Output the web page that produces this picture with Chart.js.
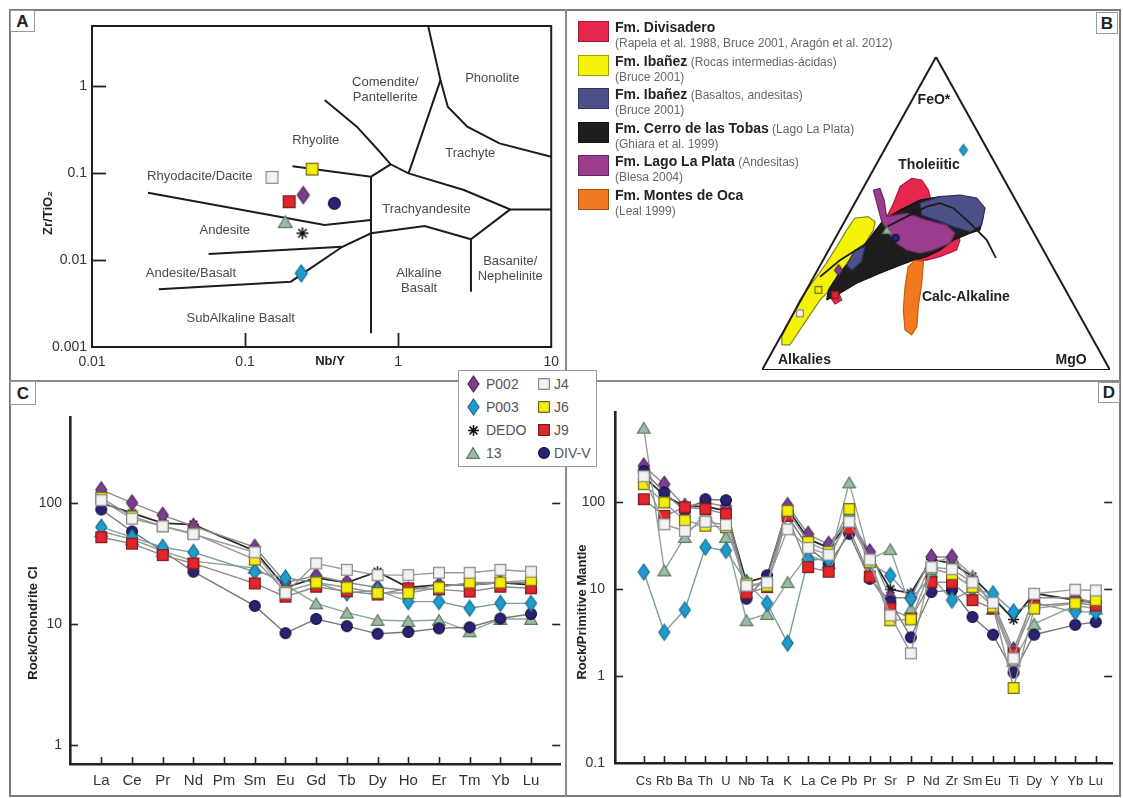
<!DOCTYPE html>
<html><head><meta charset="utf-8"><title>Geoquímica</title>
<script src="https://cdn.jsdelivr.net/npm/chart.js@4.4.0/dist/chart.umd.min.js"></script>
<style>
html,body{margin:0;padding:0;background:#fff}
#page{position:relative;width:1123px;height:798px;overflow:hidden;font-family:'Liberation Sans',Arial,sans-serif;color:#222;background:#fff}
canvas.chart{position:absolute;z-index:2}
.frame{position:absolute;border:2px solid #7a7a7a;box-sizing:border-box;z-index:1}
.vline{position:absolute;width:2px;background:#8a8a8a;z-index:1}
.hline{position:absolute;height:2px;background:#8a8a8a;z-index:1}
.letter{position:absolute;border:1px solid #9a9a9a;background:#fff;font-weight:bold;font-size:17px;text-align:center;z-index:5;box-sizing:border-box}
#legendB{position:absolute;left:578px;top:21px;z-index:5}
.lgB{position:absolute;left:0;white-space:nowrap}
.lgB .sw{position:absolute;left:0;top:0;width:31px;height:21px;box-sizing:border-box;border:1px solid rgba(0,0,0,0.35)}
.lgB .t1{position:absolute;left:37px;top:-2px;font-size:14px;font-weight:bold;color:#222;line-height:16px}
.lgB .t1 span{font-weight:normal;font-size:12px;color:#666}
.lgB .t2{position:absolute;left:37px;top:15px;font-size:12px;color:#666;line-height:14px}
#legendCD{position:absolute;left:458px;top:370px;width:139px;height:97px;border:1px solid #999;background:#fff;box-sizing:border-box;z-index:6}
.lgi{position:absolute;font-size:14px;color:#555;line-height:16px;white-space:nowrap}
.lgm{position:absolute}
</style></head>
<body><div id="page">
<div class="frame" style="left:9px;top:9px;width:1112px;height:788px"></div>
<div class="vline" style="left:565px;top:9px;height:788px"></div>
<div class="hline" style="left:9px;top:380px;width:1112px"></div>
<div class="letter" style="left:10px;top:10px;width:25px;height:22px;line-height:21px">A</div>
<div class="letter" style="left:1096px;top:12px;width:22px;height:22px;line-height:21px">B</div>
<div class="letter" style="left:10px;top:381px;width:26px;height:24px;line-height:23px">C</div>
<div class="letter" style="left:1098px;top:382px;width:22px;height:21px;line-height:20px">D</div>

<canvas id="chartA" class="chart" width="566" height="381" style="left:0px;top:0px"></canvas>
<canvas id="chartB" class="chart" width="390" height="345" style="left:730px;top:40px"></canvas>
<canvas id="chartC" class="chart" width="558" height="415" style="left:10px;top:381px"></canvas>
<canvas id="chartD" class="chart" width="552" height="415" style="left:568px;top:381px"></canvas>
<div id="legendB"></div>
<div id="legendCD"></div>
</div>
<script>
// ================= DATA =================
// Samples (shared by all panels)
const sampleNames = ['P002', 'P003', 'DEDO', '13', 'J4', 'J6', 'J9', 'DIV-V'];

// ---- Panel A: Nb/Y vs Zr/TiO2 (Winchester & Floyd) ----
const nbY   = [0.240, 0.233, 0.237, 0.183, 0.150, 0.274, 0.194, 0.383];
const zrTiO2 = [0.0558, 0.00703, 0.0203, 0.0276, 0.0892, 0.111, 0.0468, 0.0448];
const xTicksA = [0.01, 0.1, 1, 10];
const yTicksA = [0.001, 0.01, 0.1, 1];
// field boundaries (Nb/Y, Zr/TiO2)
const bndComendite = [[0.331,0.690],[0.537,0.341],[0.740,0.184],[0.893,0.126],[1.17,0.099],[2.69,0.0638],[5.40,0.0382],[10,0.0382]];
const bndPhonolite = [[1.57,4.9],[1.89,1.17],[1.17,0.099]];
const bndTrachyte = [[1.89,1.17],[2.11,0.578],[2.83,0.341],[4.59,0.219],[10,0.154]];
const bndBasanite = [[5.40,0.0382],[2.99,0.0173],[2.99,0.00432]];
const bndSubalkaline = [[0.0273,0.0046],[0.199,0.00564],[0.432,0.0142],[0.665,0.0203],[1.49,0.0246],[2.99,0.0173]];
const bndAndesiteBasalt = [[0.0578,0.0117],[0.432,0.0142]];
const bndAndesite = [[0.0232,0.0594],[0.331,0.0252],[0.665,0.0288]];
const bndRhyodacite = [[0.204,0.120],[0.665,0.0907],[0.893,0.126]];
const bndAlkaline = [[0.665,0.0907],[0.665,0.00144]];
const fieldNamesA = ['Comendite/\nPantellerite','Phonolite','Rhyolite','Trachyte','Rhyodacite/Dacite','Trachyandesite','Andesite','Andesite/Basalt','Alkaline\nBasalt','Basanite/\nNephelinite','SubAlkaline Basalt'];
const fieldNbY = [0.824, 4.12, 0.29, 2.96, 0.0506, 1.53, 0.0737, 0.0443, 1.37, 5.40, 0.0937];
const fieldZrTi = [0.91, 1.22, 0.239, 0.168, 0.0907, 0.0382, 0.0221, 0.00703, 0.0058, 0.0078, 0.00214];

// ---- Panel B: AFM ternary (plot units: base 0..100, apex y=100) ----
const formationNames = ['Fm. Divisadero','Fm. Ibañez','Fm. Ibañez','Fm. Cerro de las Tobas','Fm. Lago La Plata','Fm. Montes de Oca'];
const formationNotes = ['',' (Rocas intermedias-ácidas)',' (Basaltos, andesitas)',' (Lago La Plata)',' (Andesitas)',''];
const formationRefs = ['(Rapela et al. 1988, Bruce 2001, Aragón et al. 2012)','(Bruce 2001)','(Bruce 2001)','(Ghiara et al. 1999)','(Blesa 2004)','(Leal 1999)'];
const formationColors = ['#e8274f','#f5f20a','#4d5189','#1f1d1e','#9a3d8f','#f2791e'];
const formationEdges = ['#b0183a','#85851a','#2f3160','#111111','#6b2a63','#c35d10'];
const fieldIbanezAcid = [[5.7,8.0],[8.0,8.0],[12.8,16.0],[16.7,22.4],[21.5,27.7],[25.3,34.1],[29.1,39.4],[32.0,44.7],[32.5,47.4],[30.5,49.0],[26.7,48.5],[24.3,44.7],[21.5,39.4],[18.1,33.5],[14.3,27.7],[10.9,22.4],[8.0,16.0],[5.7,10.6],[5.7,8.0]];
const fieldDivisadero = [[39.7,58.6],[43.0,61.2],[45.9,60.7],[47.8,57.5],[48.8,53.3],[47.3,49.0],[55.0,44.7],[56.9,41.5],[55.9,38.3],[51.1,36.2],[47.3,35.1],[43.5,35.1],[39.7,36.2],[35.9,38.3],[33.9,36.2],[31.0,34.1],[30.1,36.2],[32.0,40.4],[33.9,44.7],[35.9,49.0],[37.8,53.3],[39.7,58.6]];
const fieldDivisaderoSmall = [[19.5,23.4],[21.9,25.0],[22.9,22.4],[21.0,21.1],[19.5,23.4]];
const fieldCerroTobas = [[18.6,22.4],[22.4,24.5],[27.2,27.7],[33.9,30.9],[39.7,33.5],[43.5,35.1],[47.3,36.2],[51.1,38.3],[55.0,41.5],[59.8,43.7],[62.6,44.7],[63.6,49.0],[61.7,52.2],[55.9,54.3],[51.1,55.4],[45.4,54.3],[39.7,51.1],[34.9,47.9],[32.0,43.7],[29.1,39.4],[25.3,35.1],[21.5,29.8],[19.1,25.6],[18.6,22.4]];
const fieldIbanezBasalt = [[45.4,53.3],[51.1,55.4],[56.9,55.9],[61.7,54.9],[64.1,51.7],[63.1,46.3],[59.8,44.2],[55.0,45.8],[50.2,47.9],[45.9,49.5],[45.4,53.3]];
const fieldIbanezBasaltSmall = [[24.3,33.5],[26.7,38.3],[29.6,39.4],[28.6,34.6],[25.8,31.9],[24.3,33.5]];
const fieldLagoLaPlata = [[32.0,57.5],[33.9,58.0],[35.1,54.3],[35.8,49.0],[41.6,50.1],[47.3,47.9],[53.0,46.3],[55.5,43.7],[54.0,40.5],[49.2,38.3],[45.4,37.3],[41.6,38.3],[38.7,40.5],[36.3,43.7],[34.4,47.4],[33.0,53.3],[32.0,57.5]];
const fieldMontesOca = [[44.0,35.1],[46.4,34.6],[45.9,27.7],[44.9,20.2],[44.5,13.8],[43.0,11.2],[41.1,12.8],[40.6,19.2],[41.1,26.6],[42.0,33.0],[44.0,35.1]];
const tholeiiticDivide = [[16.7,29.8],[22.4,35.1],[30.1,40.5],[35.9,45.8],[41.6,49.0],[47.3,52.2],[51.1,53.3],[55.0,51.7],[59.8,46.9],[64.6,41.5],[67.2,35.8]];
const triangleAFM = [[0,0],[100,0],[50,100],[0,0]];
const ternX = [22.0, 57.9, 35.9, 10.9, 16.2, 21.0, 38.4];
const ternY = [31.9, 70.3, 44.7, 18.1, 25.6, 24.0, 42.2];
const ternSample = ['P002','P003','13','J4','J6','J9','DIV-V'];
const ternLabels = ['FeO*','Tholeiitic','Calc-Alkaline','Alkalies','MgO'];
const ternLabelX = [49.4, 48.0, 58.6, 12.2, 88.8];
const ternLabelY = [86.3, 65.5, 23.3, 3.2, 3.2];

// ---- Panel C: REE normalised to chondrite CI ----
const reeLabels = ['La','Ce','Pr','Nd','Pm','Sm','Eu','Gd','Tb','Dy','Ho','Er','Tm','Yb','Lu'];
const reeP002 = [128, 100, 79, 64, null, 43, 22, 25, 22, 20, 19, 21, 21, 22, 22];
const reeP003 = [63, 52, 43, 39, null, 27, 24, 22, 18, 19, 15.3, 15.3, 13.5, 14.8, 14.8];
const reeDEDO = [100, 82, 68, 66, null, 40, 20, 24, 22, 27, 20, 21, 21, 22, 21];
const ree13   = [58, 50, 40, 33, null, 29, 21, 14.8, 12.4, 10.8, 10.6, 10.8, 8.7, 11, 11];
const reeJ4   = [105, 74, 64, 55, null, 39, 18, 31.6, 28, 25.3, 25.3, 26.5, 26.5, 28, 27];
const reeJ6   = [110, 77, 64, 56, null, 34, 18.5, 22, 20, 18, 18, 20, 22, 22, 23];
const reeJ9   = [52, 46, 37, 31.6, null, 21.6, 16.8, 20.3, 18.6, 17.5, 19.7, 19.3, 18.5, 20.3, 19.7];
const reeDIVV = [88, 58, 40, 27, null, 14.1, 8.4, 11, 9.6, 8.3, 8.6, 9.2, 9.4, 11.1, 12.1];
const yTicksC = [1, 10, 100];

// ---- Panel D: multi-element normalised to primitive mantle ----
const spiderLabels = ['Cs','Rb','Ba','Th','U','Nb','Ta','K','La','Ce','Pb','Pr','Sr','P','Nd','Zr','Sm','Eu','Ti','Dy','Y','Yb','Lu'];
const spP002 = [263, 162, 90, 100, 90, 10, 13, 92, 43, 33, 65, 27, 8, 8, 23.5, 23.5, 12, 7, 2, 8, null, 8, 7];
const spP003 = [15.8, 3.2, 5.8, 30.5, 28, 12, 6.9, 2.4, 22, 22, 70, 20, 14.4, 7.8, 14, 7.5, 10, 8.9, 5.5, 7, null, 5.5, 5.5];
const spDEDO = [200, 120, 90, 90, 80, 12, 14, 85, 38, 30, 60, 25, 10, 9, 22, 20, 14, 8, 4.5, 9, null, 7.5, 7];
const sp13   = [725, 16.5, 40, 75, 40, 4.4, 5.2, 12.1, 25, 20, 170, 22, 29, 6, 20, 23.5, 14.4, 6, 1.5, 4, null, 6.5, 6];
const spJ4   = [200, 56, 47, 60, 55, 11, 12, 49, 30, 25, 60, 22, 5, 1.83, 18, 17, 12, 7, 1.6, 8.9, null, 9.9, 9.7];
const spJ6   = [162, 100, 62, 54, 52, 11.6, 11, 80, 35, 27, 84, 20.5, 4.4, 4.5, 17.3, 15, 10.6, 6.3, 0.73, 6, null, 6.9, 7.5];
const spJ9   = [109, 70, 88, 84, 73.5, 9, 10.6, 70, 18, 15.9, 50, 14, 6, 4.6, 12.1, 12, 7.5, 6, 1.83, 6.5, null, 7, 6.5];
const spDIVV = [230, 130, 80, 109, 106, 7.8, 14.5, 70, 30.5, 19.6, 43.5, 13.2, 7.2, 2.8, 9.3, 9.8, 4.8, 3.0, 1.1, 3.0, null, 3.9, 4.2];
const yTicksD = [0.1, 1, 10, 100];

// ================= STYLE =================
const FONT = "'Liberation Sans', Arial, sans-serif";
const NARROW = "'Liberation Sans Narrow', 'Liberation Sans', Arial, sans-serif";
const markerShape = ['diamond','diamond','star','triangle','square','square','square','circle'];
const markerFill = ['#7b3f8e','#1e9cd0','#111111','#9cbba3','#f3f3f3','#f4ef0a','#e2262c','#2a2373'];
const markerEdge = ['#4b2758','#176a8c','#111111','#5e7d66','#8a8a8a','#6e6a20','#7c1d1f','#120e3c'];
const lineColor = ['#8c8c8c','#7f9aa5','#2a2a2a','#8fa595','#9a9a9a','#959595','#8a8a8a','#777777'];
const lineWidth = [1.4, 1.4, 1.8, 1.4, 1.4, 1.4, 1.4, 1.4];
const drawOrder = [5, 3, 7, 6, 0, 1, 2, 4];

Chart.defaults.font.family = FONT;
Chart.defaults.color = '#333';
Chart.defaults.animation = false;
Chart.defaults.events = [];
Chart.defaults.plugins.legend.display = false;
Chart.defaults.plugins.tooltip.enabled = false;

function makeMarker(shape, fill, edge, w, h) {
  const c = document.createElement('canvas');
  const pad = 2;
  c.width = w + pad * 2; c.height = h + pad * 2;
  const g = c.getContext('2d');
  g.translate(pad, pad);
  g.fillStyle = fill; g.strokeStyle = edge; g.lineWidth = 1.2;
  g.beginPath();
  if (shape === 'diamond') { g.moveTo(w/2, 0); g.lineTo(w, h/2); g.lineTo(w/2, h); g.lineTo(0, h/2); g.closePath(); }
  else if (shape === 'square') { g.rect(0.6, 0.6, w - 1.2, h - 1.2); }
  else if (shape === 'circle') { g.arc(w/2, h/2, w/2 - 0.6, 0, Math.PI * 2); }
  else if (shape === 'triangle') { g.moveTo(w/2, 0.6); g.lineTo(w - 0.6, h - 0.6); g.lineTo(0.6, h - 0.6); g.closePath(); }
  if (shape === 'star') {
    g.lineWidth = 1.5;
    for (let k = 0; k < 4; k++) {
      const a = k * Math.PI / 4;
      g.moveTo(w/2 - Math.cos(a) * w/2, h/2 - Math.sin(a) * h/2);
      g.lineTo(w/2 + Math.cos(a) * w/2, h/2 + Math.sin(a) * h/2);
    }
    g.stroke();
  } else { g.fill(); g.stroke(); }
  return c;
}
function markerFor(i, scale) {
  const s = scale || 1;
  const dims = {diamond: [11, 16], star: [11, 11], triangle: [14, 12], square: [12, 12], circle: [12, 12]}[markerShape[i]];
  return makeMarker(markerShape[i], markerFill[i], markerEdge[i], Math.round(dims[0] * s), Math.round(dims[1] * s));
}
const toXY = arr => arr.map(([x, y]) => ({x, y}));

// ---- plugins ----
function framePlugin() {
  return { id: 'frameBox', afterDatasetsDraw(chart) {
    const {ctx, chartArea: a} = chart;
    ctx.save(); ctx.strokeStyle = '#1e1e1e'; ctx.lineWidth = 2;
    ctx.strokeRect(a.left, a.top, a.right - a.left, a.bottom - a.top); ctx.restore();
  }};
}
function innerTicksPlugin(cfg) {
  return { id: 'innerTicks', afterDraw(chart) {
    const {ctx, chartArea: a, scales} = chart;
    ctx.save(); ctx.strokeStyle = cfg.color || '#222'; ctx.lineWidth = cfg.width || 1.6;
    (cfg.x || []).forEach(v => { const p = Math.round(scales.x.getPixelForValue(v)) + 0.5;
      ctx.beginPath(); ctx.moveTo(p, a.bottom); ctx.lineTo(p, a.bottom - cfg.lenX); ctx.stroke(); });
    (cfg.y || []).forEach(v => { const p = Math.round(scales.y.getPixelForValue(v)) + 0.5;
      ctx.beginPath(); ctx.moveTo(a.left, p); ctx.lineTo(a.left + cfg.lenY, p); ctx.stroke(); });
    (cfg.yRight || []).forEach(v => { const p = Math.round(scales.y.getPixelForValue(v)) + 0.5;
      ctx.beginPath(); ctx.moveTo(a.right, p); ctx.lineTo(a.right - cfg.lenY, p); ctx.stroke(); });
    ctx.restore();
  }};
}
function textPlugin(items) {
  return { id: 'textItems', afterDatasetsDraw(chart) {
    const {ctx, scales} = chart;
    items.forEach(it => {
      const px = it.data ? scales.x.getPixelForValue(it.x) : it.x;
      const py = it.data ? scales.y.getPixelForValue(it.y) : it.y;
      ctx.save();
      ctx.font = it.font; ctx.fillStyle = it.color || '#333';
      ctx.textAlign = 'center'; ctx.textBaseline = 'middle';
      ctx.translate(px, py); if (it.rotate) ctx.rotate(it.rotate);
      const lines = it.text.split('\n'); const lh = it.lh || 15;
      lines.forEach((ln, k) => ctx.fillText(ln, 0, (k - (lines.length - 1) / 2) * lh));
      ctx.restore();
    });
  }};
}
const fixedTicks = vals => s => { s.ticks = vals.map(v => ({value: v})); };

// ================= PANEL A =================
const boundaryListA = [bndComendite, bndPhonolite, bndTrachyte, bndBasanite, bndSubalkaline, bndAndesiteBasalt, bndAndesite, bndRhyodacite, bndAlkaline];
const datasetsA = boundaryListA.map(b => ({
  data: toXY(b), borderColor: '#1c1c1c', borderWidth: 2, pointRadius: 0, showLine: true, fill: false, order: 20, tension: 0
})).concat(sampleNames.map((n, i) => ({
  label: n, data: [{x: nbY[i], y: zrTiO2[i]}], showLine: false, pointStyle: markerFor(i, 1.08), pointRadius: 6, order: drawOrder[i]
})));
new Chart(document.getElementById('chartA'), {
  type: 'line',
  data: {datasets: datasetsA},
  options: {
    responsive: false, devicePixelRatio: 1,
    layout: {padding: {left: 0, top: 26, right: 14, bottom: 0}},
    scales: {
      x: {type: 'logarithmic', min: 0.01, max: 10, grid: {display: false, drawTicks: false}, border: {display: false},
          afterBuildTicks: fixedTicks(xTicksA), afterFit: s => { s.height = 34; },
          ticks: {padding: 7, font: {size: 14}, color: '#333', autoSkip: false, maxRotation: 0, callback: v => String(v)}},
      y: {type: 'logarithmic', min: 0.001, max: 4.9, grid: {display: false, drawTicks: false}, border: {display: false},
          afterBuildTicks: fixedTicks(yTicksA), afterFit: s => { s.width = 92; },
          ticks: {padding: 5, font: {size: 14}, color: '#333', autoSkip: false, callback: v => String(v)}}
    }
  },
  plugins: [framePlugin(), innerTicksPlugin({x: [0.1, 1], y: [0.01, 0.1, 1], lenX: 14, lenY: 14, width: 1.8}),
    textPlugin(fieldNamesA.map((t, i) => ({text: t, data: true, x: fieldNbY[i], y: fieldZrTi[i], font: '13px ' + FONT, color: '#4a4a4a', lh: 15}))
      .concat([{text: 'Zr/TiO\u2082', x: 48, y: 213, rotate: -Math.PI / 2, font: 'bold 13px ' + FONT, color: '#222'},
               {text: 'Nb/Y', x: 330, y: 361, font: 'bold 13px ' + FONT, color: '#222'}]))]
});

// ================= PANEL B =================
const fieldOrder = [
  [fieldMontesOca, 5], [fieldLagoLaPlata, 4], [fieldIbanezBasaltSmall, 2], [fieldIbanezBasalt, 2],
  [fieldCerroTobas, 3], [fieldDivisaderoSmall, 0], [fieldDivisadero, 0], [fieldIbanezAcid, 1]
];
const datasetsB = [
  {data: toXY(triangleAFM), borderColor: '#1c1c1c', borderWidth: 2, pointRadius: 0, fill: false, order: 1},
  {data: toXY(tholeiiticDivide), borderColor: '#1c1c1c', borderWidth: 1.8, pointRadius: 0, fill: false, order: 2}
].concat(fieldOrder.map(([poly, k], j) => ({
  data: toXY(poly), borderColor: formationEdges[k], backgroundColor: formationColors[k], borderWidth: 1.2,
  pointRadius: 0, fill: 'shape', tension: 0, order: 3 + j
}))).concat(ternSample.map((n, j) => {
  const i = sampleNames.indexOf(n);
  return {data: [{x: ternX[j], y: ternY[j]}], showLine: false, pointStyle: markerFor(i, 0.7), pointRadius: 4, order: 0};
}));
new Chart(document.getElementById('chartB'), {
  type: 'line',
  data: {datasets: datasetsB},
  options: {
    responsive: false, devicePixelRatio: 1,
    layout: {padding: {left: 32, top: 17, right: 10, bottom: 15}},
    scales: {x: {type: 'linear', min: 0, max: 100, display: false}, y: {type: 'linear', min: 0, max: 100, display: false}}
  },
  plugins: [textPlugin(ternLabels.map((t, i) => ({text: t, data: true, x: ternLabelX[i], y: ternLabelY[i], font: 'bold 14px ' + FONT, color: '#222'})))]
});

// legend B (HTML)
const legB = document.getElementById('legendB');
formationNames.forEach((n, k) => {
  const d = document.createElement('div');
  d.className = 'lgB'; d.style.top = (k * 33.5) + 'px';
  d.innerHTML = '<div class="sw" style="background:' + formationColors[k] + '"></div>' +
    '<div class="t1">' + n + (formationNotes[k] ? '<span>' + formationNotes[k] + '</span>' : '') + '</div>' +
    '<div class="t2">' + formationRefs[k] + '</div>';
  legB.appendChild(d);
});

// ================= PANELS C & D =================
function seriesDatasets(values) {
  return sampleNames.map((n, i) => ({
    label: n, data: values[i].map((v, k) => ({x: k, y: v})),
    borderColor: lineColor[i], borderWidth: lineWidth[i], pointStyle: markerFor(i), pointRadius: 6,
    spanGaps: true, fill: false, tension: 0, order: drawOrder[i]
  }));
}
const reeData = [reeP002, reeP003, reeDEDO, ree13, reeJ4, reeJ6, reeJ9, reeDIVV];
const spiderData = [spP002, spP003, spDEDO, sp13, spJ4, spJ6, spJ9, spDIVV];
const axisBorder = {display: true, color: '#222', width: 2.6};

new Chart(document.getElementById('chartC'), {
  type: 'line',
  data: {datasets: seriesDatasets(reeData)},
  options: {
    responsive: false, devicePixelRatio: 1,
    layout: {padding: {left: 0, top: 36, right: 3, bottom: 0}},
    scales: {
      x: {type: 'linear', min: -1.02, max: 14.95, grid: {display: false, drawTicks: false}, border: axisBorder,
          afterBuildTicks: fixedTicks(reeLabels.map((_, i) => i)), afterFit: s => { s.height = 32; },
          ticks: {padding: 8, autoSkip: false, maxRotation: 0, color: '#333', font: {size: 15, family: NARROW}, callback: v => reeLabels[v]}},
      y: {type: 'logarithmic', min: 0.7, max: 510, grid: {display: false, drawTicks: false}, border: axisBorder,
          afterBuildTicks: fixedTicks(yTicksC), afterFit: s => { s.width = 60; },
          ticks: {padding: 8, color: '#333', font: {size: 14}, callback: v => String(v)}}
    }
  },
  plugins: [innerTicksPlugin({x: reeLabels.map((_, i) => i), y: yTicksC, yRight: yTicksC, lenX: 7, lenY: 8, width: 1.6}),
    textPlugin([{text: 'Rock/Chondrite CI', x: 23, y: 242, rotate: -Math.PI / 2, font: 'bold 13px ' + FONT, color: '#222'}])]
});

new Chart(document.getElementById('chartD'), {
  type: 'line',
  data: {datasets: seriesDatasets(spiderData)},
  options: {
    responsive: false, devicePixelRatio: 1,
    layout: {padding: {left: 0, top: 31, right: 5, bottom: 0}},
    scales: {
      x: {type: 'linear', min: -1.4, max: 22.8, grid: {display: false, drawTicks: false}, border: axisBorder,
          afterBuildTicks: fixedTicks(spiderLabels.map((_, i) => i)), afterFit: s => { s.height = 33; },
          ticks: {padding: 11, autoSkip: false, maxRotation: 0, color: '#333', font: {size: 13, family: NARROW}, callback: v => spiderLabels[v]}},
      y: {type: 'logarithmic', min: 0.1, max: 1100, grid: {display: false, drawTicks: false}, border: axisBorder,
          afterBuildTicks: fixedTicks(yTicksD), afterFit: s => { s.width = 47; },
          ticks: {padding: 10, color: '#333', font: {size: 14}, callback: v => String(v)}}
    }
  },
  plugins: [innerTicksPlugin({x: spiderLabels.map((_, i) => i), y: yTicksD.slice(1), yRight: yTicksD.slice(1), lenX: 7, lenY: 8, width: 1.6}),
    textPlugin([{text: 'Rock/Primitive Mantle', x: 14, y: 231, rotate: -Math.PI / 2, font: 'bold 13px ' + FONT, color: '#222'}])]
});

// shared legend (HTML)
const legCD = document.getElementById('legendCD');
const legRowY = [13, 36, 59, 82];
sampleNames.forEach((n, i) => {
  const col = i < 4 ? 0 : 1, row = i % 4;
  const m = markerFor(i);
  m.className = 'lgm';
  const cx = col === 0 ? 14 : 85;
  m.style.left = (cx - m.width / 2) + 'px'; m.style.top = (legRowY[row] - m.height / 2) + 'px';
  legCD.appendChild(m);
  const t = document.createElement('div');
  t.className = 'lgi'; t.textContent = n;
  t.style.left = (col === 0 ? 27 : 95) + 'px'; t.style.top = (legRowY[row] - 8) + 'px';
  legCD.appendChild(t);
});
</script>
</body></html>
